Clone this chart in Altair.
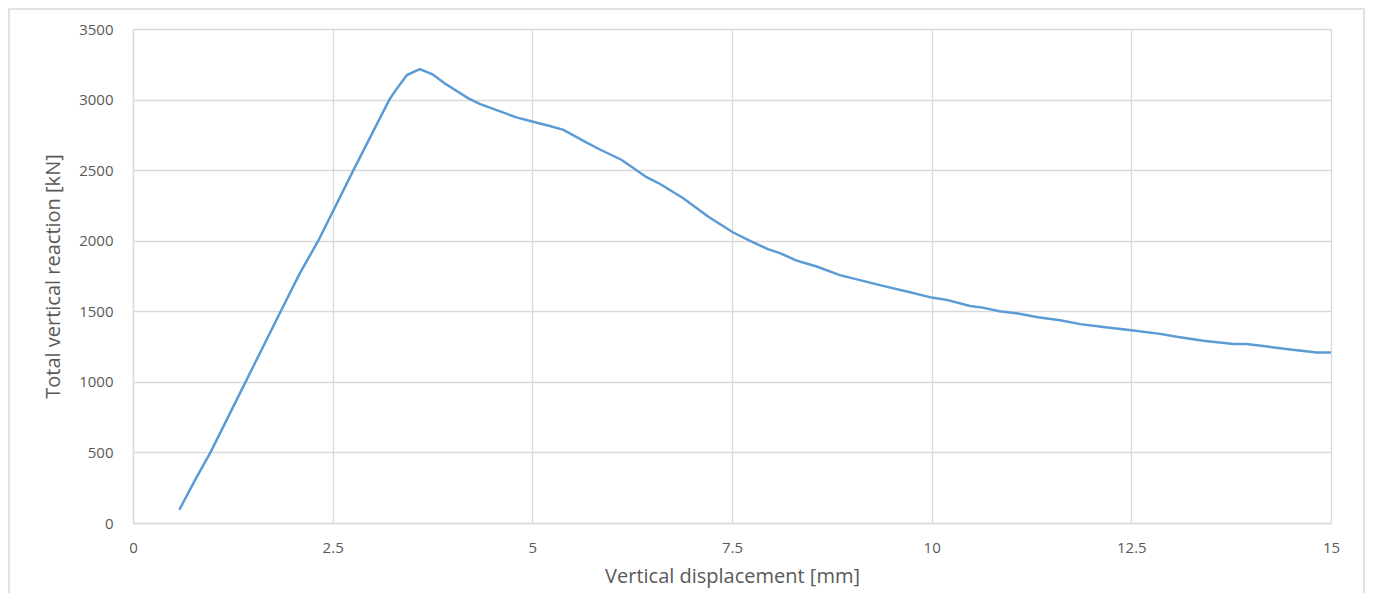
import altair as alt
import pandas as pd

disp = [0.58, 0.79, 0.97, 1.41, 1.85, 2.09, 2.32, 2.76, 3.21, 3.29, 3.43, 3.59, 3.75, 3.90,
        4.20, 4.34, 4.80, 5.01, 5.22, 5.39, 5.68, 5.84, 6.12, 6.43, 6.60, 6.89, 7.20, 7.51,
        7.72, 7.95, 8.10, 8.31, 8.56, 8.85, 9.39, 9.69, 10.00, 10.19, 10.48, 10.64, 10.85,
        11.08, 11.33, 11.61, 11.86, 12.15, 12.50, 12.86, 13.07, 13.40, 13.78, 13.94, 14.23,
        14.52, 14.82, 15.00]
reaction = [94, 318, 500, 1000, 1500, 1770, 2000, 2500, 3000, 3067, 3174, 3216, 3179, 3115,
            3009, 2969, 2874, 2843, 2813, 2785, 2695, 2648, 2572, 2450, 2402, 2301, 2171, 2060,
            2001, 1940, 1912, 1859, 1817, 1756, 1680, 1640, 1597, 1581, 1538, 1526, 1500,
            1484, 1458, 1437, 1409, 1388, 1366, 1340, 1319, 1291, 1269, 1269, 1248,
            1227, 1208, 1208]

x_ticks = [0, 2.5, 5, 7.5, 10, 12.5, 15]
y_ticks = [0, 500, 1000, 1500, 2000, 2500, 3000, 3500]

df = pd.DataFrame({"d": disp, "r": reaction})
W, H = 1198, 494
PL, PT, PR, PB = 125, 21, 34, 70

border = alt.Chart(pd.DataFrame({"a": [0]})).mark_rect(
    fill=None, stroke="#d9d9d9", strokeWidth=1.5
).encode(
    x=alt.value(-PL + 1), x2=alt.value(W + PR - 1), y=alt.value(-PT + 1), y2=alt.value(H + PB + 10)
)

line = alt.Chart(df).mark_line(color="#5b9bd5", strokeWidth=2.5).encode(
    x=alt.X("d:Q", scale=alt.Scale(domain=[0, 15], nice=False),
            axis=alt.Axis(values=x_ticks, labelExpr="datum.value + ''",
                          title="Vertical displacement [mm]",
                          labelPadding=17, titleX=W / 2, titleY=53,
                          titleBaseline="middle", labelFlush=False)),
    y=alt.Y("r:Q", scale=alt.Scale(domain=[0, 3500], nice=False),
            axis=alt.Axis(values=y_ticks, labelExpr="datum.value + ''",
                          title="Total vertical reaction [kN]",
                          labelPadding=20, titleX=-80, titleY=H / 2,
                          titleBaseline="middle", labelFlush=False)),
)

chart = alt.layer(border, line).properties(
    width=W, height=H,
    autosize=alt.AutoSizeParams(type="none"),
    padding={"left": PL, "top": PT, "right": PR, "bottom": PB},
).configure_view(stroke=None).configure_axis(
    grid=True, gridColor="#d9d9d9", gridWidth=1.3,
    domainColor="#d9d9d9", domainWidth=1.3, ticks=False,
    labelFont="Open Sans", labelFontSize=15, labelColor="#595959",
    titleFont="Open Sans", titleFontSize=20, titleColor="#595959",
    titleFontWeight="normal",
)

chart.save("out.html", embed_options={"renderer": "svg", "actions": False})
